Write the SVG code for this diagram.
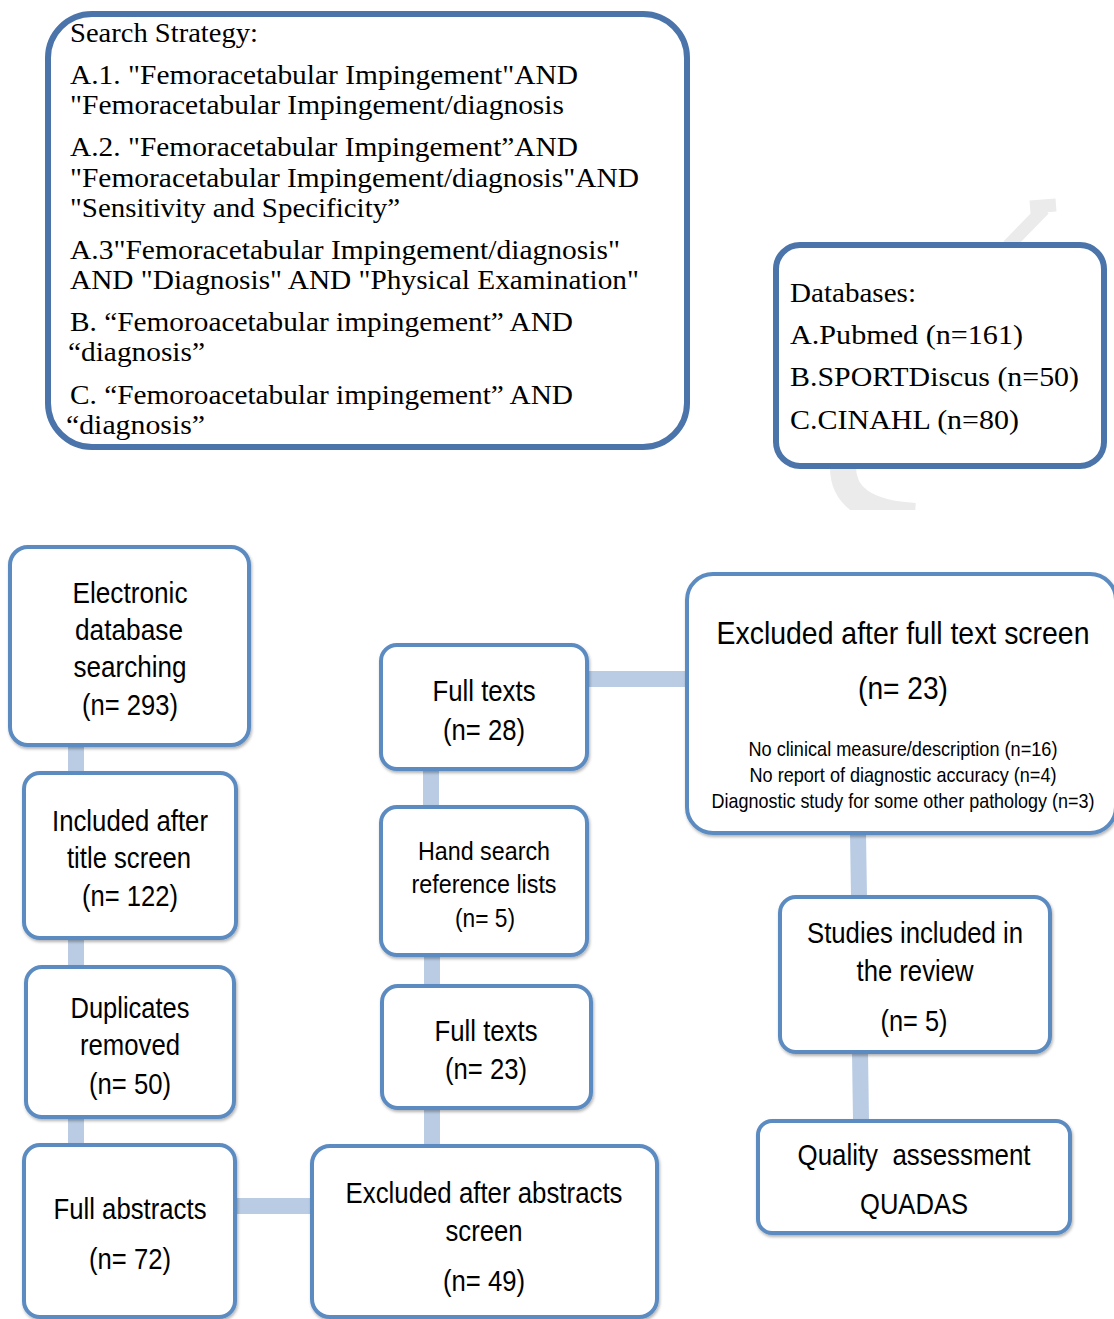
<svg xmlns="http://www.w3.org/2000/svg" width="1114" height="1319" viewBox="0 0 1114 1319">
<style>
.big{fill:#fff;stroke:#4a74aa;stroke-width:6}
.box{fill:#fff;stroke:#5b8bc1;stroke-width:4;filter:url(#sh)}
.ser{font-family:"Liberation Serif","Times New Roman",serif;font-size:27px;fill:#000}
.t{font-family:"Liberation Sans",Arial,sans-serif;font-size:29px;fill:#000;text-anchor:middle}
.s{font-family:"Liberation Sans",Arial,sans-serif;font-size:21px;fill:#000;text-anchor:middle}
.con{stroke:#b9cce4;stroke-width:16;fill:none}
.wm{stroke:#ebebeb;fill:none}
</style>
<defs>
<filter id="sh" x="-10%" y="-10%" width="120%" height="120%">
<feDropShadow dx="1" dy="2" stdDeviation="1.5" flood-color="#000" flood-opacity="0.3"/>
</filter>
<clipPath id="wmclip"><rect x="0" y="0" width="1114" height="510"/></clipPath>
</defs>
<rect width="1114" height="1319" fill="#fff"/>
<g id="watermark" clip-path="url(#wmclip)">
<path class="wm" d="M843,466 Q842,512 915,516" stroke-width="26"/>
<path class="wm" d="M1008,246 L1044,209 M1030,207 L1056,205" stroke-width="13"/>
</g>
<g id="search-strategy">
<rect class="big" x="48" y="14" width="639" height="433" rx="44"/>
<text class="ser" x="70" y="42" textLength="188" lengthAdjust="spacingAndGlyphs">Search Strategy:</text>
<text class="ser" x="70" y="84" textLength="508" lengthAdjust="spacingAndGlyphs">A.1. "Femoracetabular Impingement"AND</text>
<text class="ser" x="70" y="114" textLength="494" lengthAdjust="spacingAndGlyphs">"Femoracetabular Impingement/diagnosis</text>
<text class="ser" x="70" y="156" textLength="508" lengthAdjust="spacingAndGlyphs">A.2. "Femoracetabular Impingement”AND</text>
<text class="ser" x="70" y="187" textLength="569" lengthAdjust="spacingAndGlyphs">"Femoracetabular Impingement/diagnosis"AND</text>
<text class="ser" x="70" y="217" textLength="330" lengthAdjust="spacingAndGlyphs">"Sensitivity and Specificity”</text>
<text class="ser" x="70" y="259" textLength="550" lengthAdjust="spacingAndGlyphs">A.3"Femoracetabular Impingement/diagnosis"</text>
<text class="ser" x="70" y="289" textLength="569" lengthAdjust="spacingAndGlyphs">AND "Diagnosis" AND "Physical Examination"</text>
<text class="ser" x="70" y="331" textLength="503" lengthAdjust="spacingAndGlyphs">B. “Femoroacetabular impingement” AND</text>
<text class="ser" x="68" y="361" textLength="137" lengthAdjust="spacingAndGlyphs">“diagnosis”</text>
<text class="ser" x="70" y="404" textLength="503" lengthAdjust="spacingAndGlyphs">C. “Femoroacetabular impingement” AND</text>
<text class="ser" x="66" y="434" textLength="139" lengthAdjust="spacingAndGlyphs">“diagnosis”</text>
</g>
<g id="databases">
<rect class="big" x="776" y="245" width="328" height="221" rx="24"/>
<text class="ser" x="790" y="302" textLength="126" lengthAdjust="spacingAndGlyphs">Databases:</text>
<text class="ser" x="790" y="344" textLength="233" lengthAdjust="spacingAndGlyphs">A.Pubmed (n=161)</text>
<text class="ser" x="790" y="386" textLength="289" lengthAdjust="spacingAndGlyphs">B.SPORTDiscus (n=50)</text>
<text class="ser" x="790" y="429" textLength="229" lengthAdjust="spacingAndGlyphs">C.CINAHL (n=80)</text>
</g>
<g id="connectors">
<line class="con" x1="76" y1="745" x2="76" y2="773"/>
<line class="con" x1="76" y1="938" x2="76" y2="967"/>
<line class="con" x1="76" y1="1117" x2="76" y2="1145"/>
<line class="con" x1="235" y1="1206" x2="312" y2="1206"/>
<line class="con" x1="432" y1="1108" x2="432" y2="1146"/>
<line class="con" x1="432" y1="955" x2="432" y2="986"/>
<line class="con" x1="431" y1="769" x2="431" y2="807"/>
<line class="con" x1="587" y1="679" x2="687" y2="679"/>
<line class="con" x1="858" y1="833" x2="859" y2="897"/>
<line class="con" x1="860" y1="1052" x2="861" y2="1121"/>
</g>
<g id="n-electronic">
<rect class="box" x="10" y="547" width="239" height="198" rx="18"/>
<text class="t" x="130" y="603" textLength="115" lengthAdjust="spacingAndGlyphs">Electronic</text>
<text class="t" x="129" y="640" textLength="108" lengthAdjust="spacingAndGlyphs">database</text>
<text class="t" x="130" y="677" textLength="113" lengthAdjust="spacingAndGlyphs">searching</text>
<text class="t" x="130" y="715" textLength="96" lengthAdjust="spacingAndGlyphs">(n= 293)</text>
</g>
<g id="n-included">
<rect class="box" x="24" y="773" width="212" height="165" rx="16"/>
<text class="t" x="130" y="831" textLength="156" lengthAdjust="spacingAndGlyphs">Included after</text>
<text class="t" x="129" y="868" textLength="124" lengthAdjust="spacingAndGlyphs">title screen</text>
<text class="t" x="130" y="906" textLength="96" lengthAdjust="spacingAndGlyphs">(n= 122)</text>
</g>
<g id="n-duplicates">
<rect class="box" x="26" y="967" width="208" height="150" rx="16"/>
<text class="t" x="130" y="1018" textLength="119" lengthAdjust="spacingAndGlyphs">Duplicates</text>
<text class="t" x="130" y="1055" textLength="100" lengthAdjust="spacingAndGlyphs">removed</text>
<text class="t" x="130" y="1094" textLength="82" lengthAdjust="spacingAndGlyphs">(n= 50)</text>
</g>
<g id="n-full-abstracts">
<rect class="box" x="24" y="1145" width="211" height="172" rx="16"/>
<text class="t" x="130" y="1219" textLength="153" lengthAdjust="spacingAndGlyphs">Full abstracts</text>
<text class="t" x="130" y="1269" textLength="82" lengthAdjust="spacingAndGlyphs">(n= 72)</text>
</g>
<g id="n-excluded-abstracts">
<rect class="box" x="312" y="1146" width="345" height="171" rx="18"/>
<text class="t" x="484" y="1203" textLength="277" lengthAdjust="spacingAndGlyphs">Excluded after abstracts</text>
<text class="t" x="484" y="1241" textLength="77" lengthAdjust="spacingAndGlyphs">screen</text>
<text class="t" x="484" y="1291" textLength="82" lengthAdjust="spacingAndGlyphs">(n= 49)</text>
</g>
<g id="n-full-texts-23">
<rect class="box" x="382" y="986" width="209" height="122" rx="16"/>
<text class="t" x="486" y="1041" textLength="103" lengthAdjust="spacingAndGlyphs">Full texts</text>
<text class="t" x="486" y="1079" textLength="82" lengthAdjust="spacingAndGlyphs">(n= 23)</text>
</g>
<g id="n-hand-search">
<rect class="box" x="381" y="807" width="206" height="148" rx="16"/>
<text class="t" x="484" y="860" style="font-size:26px" textLength="132" lengthAdjust="spacingAndGlyphs">Hand search</text>
<text class="t" x="484" y="893" style="font-size:26px" textLength="145" lengthAdjust="spacingAndGlyphs">reference lists</text>
<text class="t" x="485" y="927" style="font-size:26px" textLength="60" lengthAdjust="spacingAndGlyphs">(n= 5)</text>
</g>
<g id="n-full-texts-28">
<rect class="box" x="381" y="645" width="206" height="124" rx="16"/>
<text class="t" x="484" y="701" textLength="103" lengthAdjust="spacingAndGlyphs">Full texts</text>
<text class="t" x="484" y="740" textLength="82" lengthAdjust="spacingAndGlyphs">(n= 28)</text>
</g>
<g id="n-excluded-full-text">
<rect class="box" x="687" y="574" width="429" height="259" rx="26"/>
<text class="t" x="903" y="644" style="font-size:32px" textLength="373" lengthAdjust="spacingAndGlyphs">Excluded after full text screen</text>
<text class="t" x="903" y="699" style="font-size:32px" textLength="90" lengthAdjust="spacingAndGlyphs">(n= 23)</text>
<text class="s" x="903" y="756" textLength="309" lengthAdjust="spacingAndGlyphs">No clinical measure/description (n=16)</text>
<text class="s" x="903" y="782" textLength="307" lengthAdjust="spacingAndGlyphs">No report of diagnostic accuracy (n=4)</text>
<text class="s" x="903" y="808" textLength="383" lengthAdjust="spacingAndGlyphs">Diagnostic study for some other pathology (n=3)</text>
</g>
<g id="n-studies-included">
<rect class="box" x="780" y="897" width="270" height="155" rx="16"/>
<text class="t" x="915" y="943" textLength="216" lengthAdjust="spacingAndGlyphs">Studies included in</text>
<text class="t" x="915" y="981" textLength="117" lengthAdjust="spacingAndGlyphs">the review</text>
<text class="t" x="914" y="1031" textLength="67" lengthAdjust="spacingAndGlyphs">(n= 5)</text>
</g>
<g id="n-quality">
<rect class="box" x="758" y="1121" width="312" height="112" rx="14"/>
<text class="t" x="914" y="1165" style="white-space:pre" textLength="233" lengthAdjust="spacingAndGlyphs">Quality  assessment</text>
<text class="t" x="914" y="1214" textLength="108" lengthAdjust="spacingAndGlyphs">QUADAS</text>
</g>
</svg>
